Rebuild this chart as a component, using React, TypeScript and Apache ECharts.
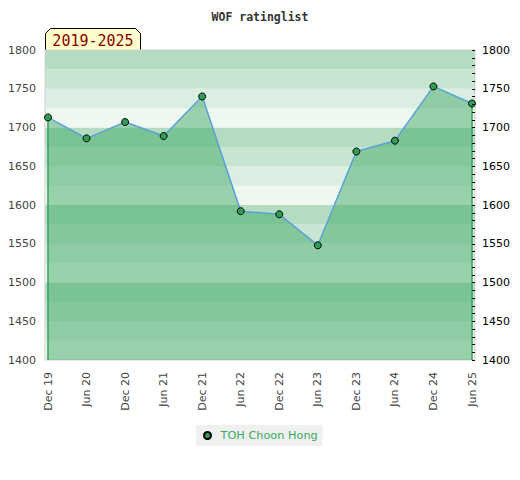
import React, { useEffect, useRef } from "react";
import * as echarts from "echarts";

const categories = ["Dec 19", "Jun 20", "Dec 20", "Jun 21", "Dec 21", "Jun 22", "Dec 22", "Jun 23", "Dec 23", "Jun 24", "Dec 24", "Jun 25"];
const ratings = [1713, 1686, 1707, 1689, 1740, 1592, 1588, 1548, 1669, 1683, 1753, 1731];
const seriesName = "TOH Choon Hong";
const titleText = "WOF ratinglist";
const periodText = "2019-2025";
const yMin = 1400;
const yMax = 1800;
const bandStep = 25;
const bandColors = ["#eff7f1", "#dbeee2", "#c7e5d1", "#b3dcc1"];

export default function App() {
  const ref = useRef<HTMLDivElement>(null);
  useEffect(() => {
    document.body.style.margin = "0";
    if (!ref.current) return;
    const chart = echarts.init(ref.current, null, { renderer: "svg" });
    const bands: any[] = [];
    let i = 0;
    for (let v = yMin; v < yMax; v += bandStep, i++) {
      bands.push([
        { yAxis: v, itemStyle: { color: bandColors[i % 4], opacity: 1 } },
        { yAxis: v + bandStep },
      ]);
    }
    const last = categories.length - 1;
    const plain = (v: number) => String(v);
    chart.setOption({
      animation: false,
      title: {
        text: titleText,
        left: "center",
        top: 6,
        textStyle: { fontFamily: "DejaVu Sans Mono", fontWeight: "bold", fontSize: 11.5, color: "#333" },
      },
      legend: {
        data: [{ name: seriesName, icon: "circle" }],
        left: 196,
        top: 425,
        itemWidth: 8,
        itemHeight: 7,
        padding: [5, 5, 5, 7],
        backgroundColor: "#f0f0f0",
        textStyle: { color: "#3aaa5e", fontSize: 11.3, fontFamily: "DejaVu Sans", padding: [0, 0, 0, 4] },
      },
      grid: [
        { left: 45, right: 45, top: 50, bottom: 120, show: true, borderColor: "#d0d0d0", borderWidth: 1, backgroundColor: "transparent", z: 3 },
        { left: 48, right: 48, top: 50, bottom: 120 },
      ],
      xAxis: [
        { type: "value", gridIndex: 0, min: 0, max: 1, show: false },
        {
          type: "category",
          gridIndex: 1,
          data: categories,
          boundaryGap: false,
          axisLine: { show: false },
          axisTick: { show: false },
          axisLabel: { rotate: 90, margin: 12, color: "#444", fontSize: 11, fontFamily: "DejaVu Sans" },
        },
      ],
      yAxis: [
        {
          type: "value",
          gridIndex: 0,
          position: "left",
          min: yMin,
          max: yMax,
          interval: 50,
          axisLine: { show: false },
          axisTick: { show: false },
          splitLine: { show: false },
          axisLabel: { color: "#444", fontSize: 11, margin: 9, fontFamily: "DejaVu Sans", formatter: plain },
        },
        {
          type: "value",
          gridIndex: 0,
          position: "right",
          min: yMin,
          max: yMax,
          interval: 50,
          axisLine: { show: false },
          axisTick: { show: true, inside: true, length: 3, lineStyle: { color: "#000" } },
          minorTick: { show: true, splitNumber: 5, length: 3, lineStyle: { color: "#000" } },
          splitLine: { show: false },
          axisLabel: { color: "#000", fontSize: 11, margin: 7, fontFamily: "DejaVu Sans", formatter: plain },
          z: 10,
        },
        { type: "value", gridIndex: 1, min: yMin, max: yMax, show: false },
      ],
      series: [
        {
          type: "line",
          xAxisIndex: 0,
          yAxisIndex: 0,
          data: [],
          silent: true,
          z: 0,
          markArea: { silent: true, data: bands },
        },
        {
          name: seriesName,
          type: "line",
          xAxisIndex: 1,
          yAxisIndex: 2,
          data: ratings,
          z: 5,
          symbol: "circle",
          symbolSize: 7,
          lineStyle: { color: "#5aa0d8", width: 1.5 },
          itemStyle: { color: "#2e9e55", borderColor: "#000", borderWidth: 1 },
          areaStyle: { color: "rgba(60,168,98,0.48)", opacity: 1 },
          markLine: {
            silent: true,
            symbol: "none",
            label: { show: false },
            lineStyle: { color: "#2ea05a", width: 1.5, type: "solid" },
            data: [
              [{ coord: [categories[0], ratings[0]] }, { coord: [categories[0], yMin] }],
              [{ coord: [categories[last], ratings[last]] }, { coord: [categories[last], yMin] }],
            ],
          },
        },
      ],
      graphic: [
        {
          type: "group",
          left: 45,
          top: 28,
          z: 20,
          children: [
            {
              type: "polygon",
              shape: { points: [[0, 5], [5, 0], [90, 0], [95, 5], [95, 22], [0, 22]] },
              style: { fill: "#ffffcc", stroke: "#000", lineWidth: 1 },
            },
            {
              type: "text",
              x: 47.5,
              y: 12,
              style: {
                text: periodText,
                fill: "#8b0000",
                font: "15px 'DejaVu Sans Mono'",
                textAlign: "center",
                textVerticalAlign: "middle",
              },
            },
          ],
        },
      ],
    });
    return () => chart.dispose();
  }, []);
  return <div ref={ref} style={{ width: 520, height: 480 }} />;
}
